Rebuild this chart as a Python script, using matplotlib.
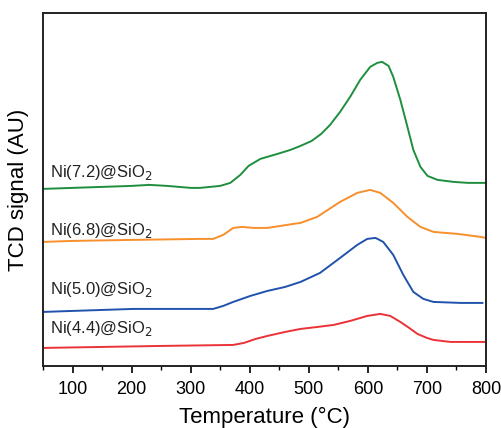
import numpy as np
from matplotlib import pyplot as plt
from matplotlib.ticker import MultipleLocator

plt.rcParams['font.family'] = ['Liberation Sans', 'DejaVu Sans']

# TPR profiles, signal in arbitrary units (offset stacked)
t_72 = [50, 100, 150, 200, 230, 260, 300, 316, 350, 367, 384, 398, 418, 447, 469, 486, 505,
        521, 536, 553, 570, 587, 604, 616, 624, 635, 643, 655, 667, 677, 689, 701, 718, 745,
        770, 800]
s_72 = [177, 178, 179, 180, 181, 180, 178, 178, 180, 183, 191, 200, 207, 212, 216, 220, 225,
        232, 241, 254, 269, 286, 299, 303, 304, 300, 289, 266, 239, 216, 199, 190, 186, 184,
        183, 183]

t_68 = [50, 100, 200, 316, 338, 355, 372, 387, 406, 430, 474, 486, 514, 553, 582, 604, 621,
        643, 667, 689, 711, 752, 791, 800]
s_68 = [124, 125, 126, 127, 127, 131, 138, 139, 138, 138, 142, 143, 149, 164, 173, 176, 173,
        163, 149, 139, 134, 132, 129, 128]

t_50 = [50, 100, 203, 300, 338, 355, 372, 401, 430, 460, 486, 519, 553, 582, 599, 613, 626,
        643, 660, 677, 694, 711, 757, 794]
s_50 = [54, 55, 57, 57, 57, 60, 64, 70, 75, 79, 84, 93, 108, 121, 127, 128, 124, 111, 91, 74,
        67, 64, 63, 63]

t_44 = [50, 150, 250, 372, 390, 410, 430, 460, 486, 515, 542, 570, 599, 621, 638, 655, 670,
        684, 700, 711, 740, 800]
s_44 = [18, 19, 20, 21, 23, 27, 30, 34, 37, 39, 41, 45, 50, 52, 50, 44, 38, 32, 28, 26, 24, 24]

labels = ['Ni(7.2)@SiO$_2$', 'Ni(6.8)@SiO$_2$', 'Ni(5.0)@SiO$_2$', 'Ni(4.4)@SiO$_2$']
label_y = [193, 135, 76, 37]
colors = ['#1e8f3e', '#f7902c', '#2152ac', '#ea3238']

fig = plt.figure(figsize=(5.01, 4.28), dpi=100)
ax = fig.add_axes([0.086, 0.145, 0.884, 0.825])

series = [(t_72, s_72), (t_68, s_68), (t_50, s_50), (t_44, s_44)]
for (t, s), c in zip(series, colors):
    ax.plot(t, s, color=c, lw=1.4, solid_joinstyle='round')

for lab, y in zip(labels, label_y):
    ax.text(61, y, lab, fontsize=12, va='center', ha='left', color='#222222')

ax.set_xlim(50, 800)
ax.set_ylim(0, 353)
ax.xaxis.set_major_locator(MultipleLocator(100))
ax.xaxis.set_minor_locator(MultipleLocator(50))
ax.set_yticks([])
ax.tick_params(axis='x', which='major', length=5, width=1.2, labelsize=13, pad=6)
ax.tick_params(axis='x', which='minor', length=3, width=1.0)
for sp in ax.spines.values():
    sp.set_linewidth(1.4)
    sp.set_color('#222222')

ax.set_xlabel('Temperature (°C)', fontsize=16, labelpad=6)
ax.set_ylabel('TCD signal (AU)', fontsize=16, labelpad=10)

plt.savefig('out.png', dpi=100)
